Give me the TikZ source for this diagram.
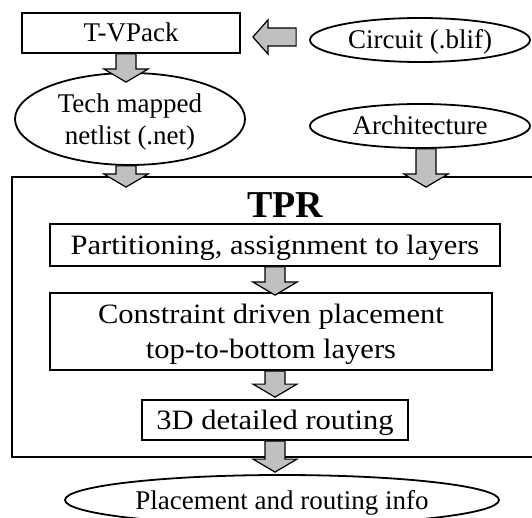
\documentclass[tikz,border=0pt]{standalone}
\usepackage{fontspec}
\setmainfont{Liberation Serif}
\newfontfamily\widefont{Liberation Serif}[FakeStretch=1.09]
\usetikzlibrary{shapes.geometric,calc}
\definecolor{arrowgray}{RGB}{192,192,192}
\tikzset{
  box/.style={draw, line width=1.8pt, rectangle, inner sep=0pt},
  oval/.style={draw, line width=1.8pt, ellipse, inner sep=0pt},
  one/.style={text height=18pt, text depth=0pt},
  blk/.style={fill=arrowgray, draw=black, line width=1.2pt, line join=miter},
  txt/.style={font=\fontsize{27}{32}\selectfont},
  intxt/.style={font=\widefont\fontsize{28}{35}\selectfont},
}
\newcommand{\blkdown}[2]{%
  \draw[blk] let \p1=(#1), \p2=(#2) in
    (\x1-10pt,\y1) -- (\x1+10pt,\y1) -- (\x1+10pt,\y2+13pt) -- (\x1+22pt,\y2+13pt)
    -- (\x1,\y2) -- (\x1-22pt,\y2+13pt) -- (\x1-10pt,\y2+13pt) -- cycle;}
\newcommand{\blkleft}[2]{%
  \draw[blk] let \p1=(#1), \p2=(#2) in
    (\x1,\y1+9pt) -- (\x1,\y1-9pt) -- (\x2+15pt,\y1-9pt) -- (\x2+15pt,\y1-17pt)
    -- (\x2,\y1) -- (\x2+15pt,\y1+17pt) -- (\x2+15pt,\y1+9pt) -- cycle;}
\begin{document}
\begin{tikzpicture}[x=1pt,y=-1pt]
\useasboundingbox (0,0) rectangle (532,518);
% top part
\node[box, txt, one, minimum width=218pt, minimum height=40pt] (tv) at (131,33) {T-VPack};
\node[oval, txt, one, minimum width=220pt, minimum height=44pt] (circ) at (420,40) {Circuit (.blif)};
\node[oval, txt, align=center, text depth=0pt, minimum width=230pt, minimum height=92pt] (tech) at (130,119) {Tech mapped\\netlist (.net)};
\node[oval, txt, one, minimum width=220pt, minimum height=44pt] (arch) at (420,126) {Architecture};
% TPR frame
\node[box, minimum width=533pt, minimum height=280pt] (tpr) at (278.5,317) {};
\node[font=\fontsize{38}{40}\selectfont\bfseries, inner sep=0pt, text height=25pt, text depth=0pt] (tprlabel) at (285,205.5) {TPR};
\node[box, intxt, text height=18.5pt, text depth=0pt, minimum width=450pt, minimum height=42pt] (part) at (275,245) {Partitioning, assignment to layers};
\node[box, intxt, align=center, text depth=0pt, minimum width=442pt, minimum height=77pt] (cons) at (271,331.5) {Constraint driven placement\\top-to-bottom layers};
\node[box, intxt, text height=18.5pt, text depth=0pt, minimum width=266pt, minimum height=40pt] (d3) at (275,420) {3D detailed routing};
\node[oval, txt, one, minimum width=434pt, minimum height=50pt] (place) at (282,500) {Placement and routing info};
% block arrows
\blkleft{[xshift=-13pt,yshift=3pt]circ.west}{[xshift=12pt]tv.east}
\blkdown{[xshift=-5pt]tv.south}{[yshift=-10pt]tech.north}
\blkdown{[xshift=-4pt]tech.south}{[yshift=-11pt]tpr.north}
\blkdown{[xshift=6pt]arch.south}{[yshift=-11pt]tpr.north}
\blkdown{part.south}{[yshift=-3pt]cons.north}
\blkdown{[xshift=4pt]cons.south}{[yshift=2pt]d3.north}
\blkdown{d3.south}{[yshift=2pt]place.north}
\end{tikzpicture}
\end{document}
